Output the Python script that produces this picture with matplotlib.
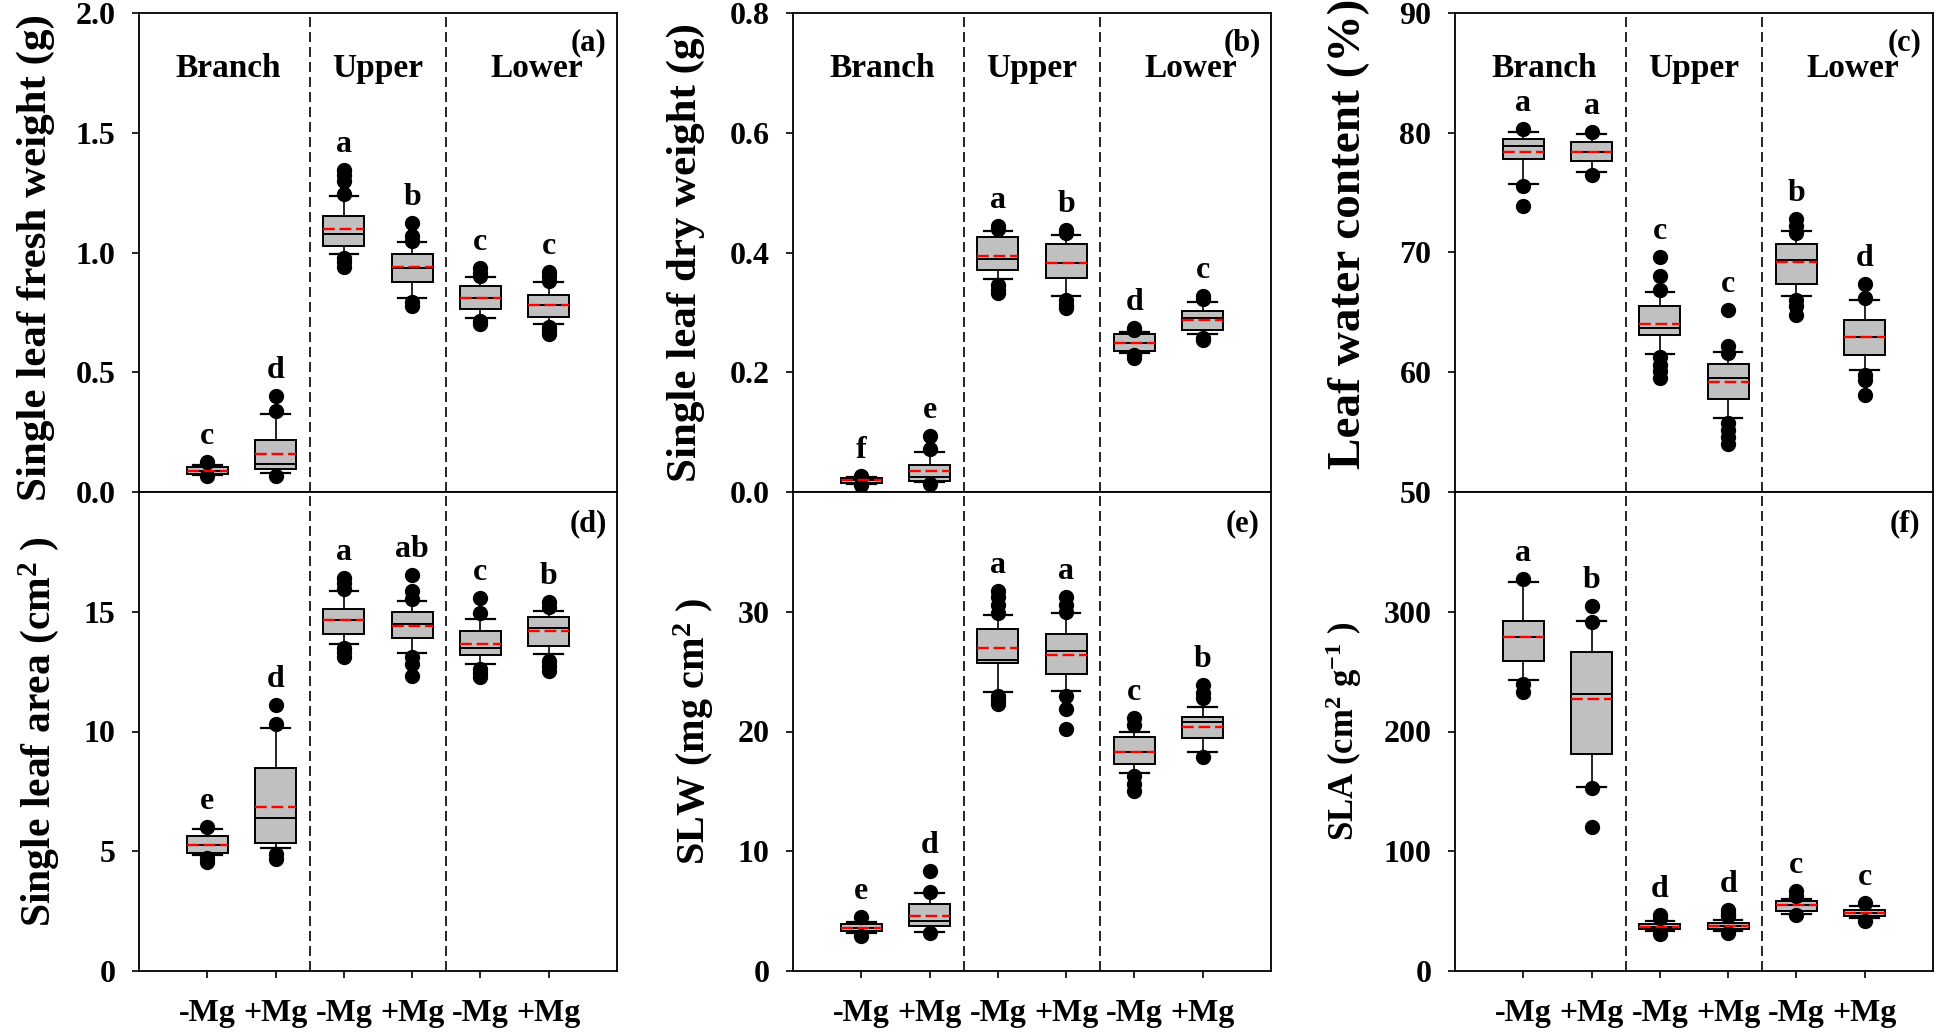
import matplotlib
matplotlib.use("Agg")
import matplotlib.pyplot as plt
import matplotlib.transforms as mtransforms

plt.rcParams.update({
    "font.family": ["Liberation Serif", "DejaVu Serif"],
    "font.weight": "bold",
    "axes.labelweight": "bold",
    "mathtext.fontset": "custom",
    "mathtext.rm": "Liberation Serif:bold",
    "mathtext.it": "Liberation Serif:italic:bold",
    "mathtext.bf": "Liberation Serif:bold",
    "axes.linewidth": 1.3,
})

# ---------------- data (order: Branch -Mg, Branch +Mg, Upper -Mg, Upper +Mg, Lower -Mg, Lower +Mg)
treatments = ["-Mg", "+Mg", "-Mg", "+Mg", "-Mg", "+Mg"]
groups = ["Branch", "Upper", "Lower"]

# (a) single leaf fresh weight (g)
a_q1 = [0.076, 0.094, 1.028, 0.875, 0.766, 0.730]
a_med = [0.088, 0.117, 1.077, 0.935, 0.809, 0.780]
a_q3 = [0.104, 0.216, 1.153, 0.993, 0.861, 0.823]
a_mean = [0.088, 0.159, 1.097, 0.938, 0.812, 0.781]
a_lo = [0.072, 0.078, 0.994, 0.809, 0.726, 0.702]
a_hi = [0.113, 0.325, 1.234, 1.043, 0.897, 0.877]
a_out = [[0.125, 0.065], [0.40, 0.337, 0.066], [1.345, 1.325, 1.30, 1.245, 0.976, 0.96, 0.94],
         [1.125, 1.067, 1.05, 0.795, 0.775], [0.935, 0.915, 0.90, 0.712, 0.70],
         [0.92, 0.90, 0.88, 0.69, 0.675, 0.66]]
a_let = ["c", "d", "a", "b", "c", "c"]

# (b) single leaf dry weight (g)
b_q1 = [0.0155, 0.018, 0.370, 0.358, 0.235, 0.270]
b_med = [0.020, 0.025, 0.389, 0.382, 0.249, 0.290]
b_q3 = [0.0226, 0.045, 0.4257, 0.415, 0.264, 0.302]
b_mean = [0.020, 0.035, 0.394, 0.382, 0.249, 0.288]
b_lo = [0.014, 0.016, 0.355, 0.3275, 0.232, 0.264]
b_hi = [0.025, 0.066, 0.436, 0.430, 0.267, 0.317]
b_out = [[0.027, 0.012], [0.094, 0.071, 0.013], [0.444, 0.440, 0.346, 0.338, 0.333],
         [0.438, 0.433, 0.320, 0.312, 0.307], [0.274, 0.270, 0.228, 0.224],
         [0.327, 0.322, 0.258, 0.254]]
b_let = ["f", "e", "a", "b", "d", "c"]

# (c) leaf water content (%)
c_q1 = [77.78, 77.64, 63.14, 57.78, 67.40, 61.41]
c_med = [78.90, 78.40, 63.70, 59.51, 69.41, 62.91]
c_q3 = [79.46, 79.23, 65.51, 60.71, 70.75, 64.40]
c_mean = [78.42, 78.40, 64.06, 59.18, 69.22, 62.91]
c_lo = [75.75, 76.72, 61.55, 56.20, 66.40, 60.15]
c_hi = [80.07, 79.90, 66.71, 61.69, 71.78, 66.07]
c_out = [[80.3, 75.55, 73.88], [80.07, 76.47], [69.64, 68.02, 66.85, 61.3, 60.63, 60.07, 59.51],
         [65.23, 62.16, 61.6, 55.8, 55.2, 54.6, 54.0], [72.76, 72.2, 71.6, 66.07, 65.5, 64.8],
         [67.4, 66.2, 59.8, 59.37, 58.1]]
c_let = ["a", "a", "c", "c", "b", "d"]

# (d) single leaf area (cm2)
d_q1 = [4.93, 5.36, 14.07, 13.90, 13.18, 13.56]
d_med = [5.26, 6.37, 14.64, 14.50, 13.50, 14.33]
d_q3 = [5.62, 8.47, 15.10, 14.98, 14.19, 14.76]
d_mean = [5.26, 6.86, 14.64, 14.42, 13.64, 14.19]
d_lo = [4.83, 5.14, 13.64, 13.28, 12.82, 13.25]
d_hi = [5.91, 10.15, 15.86, 15.45, 14.71, 15.02]
d_out = [[6.03, 4.71, 4.57], [11.1, 10.3, 4.88, 4.66], [16.4, 16.2, 15.95, 13.47, 13.3, 13.13],
         [16.53, 15.88, 15.53, 13.13, 12.8, 12.3], [15.57, 14.93, 12.61, 12.45, 12.27],
         [15.4, 15.2, 12.96, 12.75, 12.53]]
d_let = ["e", "d", "a", "ab", "c", "b"]

# (e) SLW (mg cm-2)
e_q1 = [3.30, 3.75, 25.74, 24.78, 17.25, 19.45]
e_med = [3.60, 4.19, 26.00, 26.70, 18.28, 20.82]
e_q3 = [3.92, 5.57, 28.56, 28.14, 19.55, 21.20]
e_mean = [3.60, 4.60, 26.94, 26.43, 18.30, 20.41]
e_lo = [3.16, 3.23, 23.33, 23.40, 16.56, 18.25]
e_hi = [4.09, 6.50, 29.76, 29.86, 20.00, 22.03]
e_out = [[4.5, 2.89], [8.32, 6.6, 3.16], [31.75, 31.2, 30.6, 29.9, 23.0, 22.6, 22.3],
         [31.24, 30.6, 30.0, 22.99, 21.86, 20.24], [21.1, 20.58, 16.29, 15.6, 15.02],
         [23.85, 23.2, 22.82, 17.9]]
e_let = ["e", "d", "a", "a", "c", "b"]

# (f) SLA (cm2 g-1)
f_q1 = [259.1, 181.0, 34.7, 35.0, 50.2, 46.0]
f_med = [279.0, 231.0, 36.8, 37.5, 55.3, 48.8]
f_q3 = [292.4, 266.0, 39.2, 40.2, 58.1, 51.2]
f_mean = [279.0, 227.5, 36.8, 37.5, 55.3, 48.8]
f_lo = [242.6, 153.6, 33.0, 33.0, 48.0, 44.5]
f_hi = [325.0, 292.4, 41.9, 42.6, 60.5, 54.6]
f_out = [[327, 240, 233], [304.5, 291.8, 152.6, 120.6], [46.7, 44.0, 30.6],
         [51.2, 48.0, 46.0, 31.6], [66.7, 63.0, 46.7], [56.4, 42.0]]
f_let = ["a", "b", "d", "d", "c", "c"]

panels = [
    dict(tag="(a)", ylabel="Single leaf fresh weight (g)", ylim=(0, 2.0),
         yticks=[0.0, 0.5, 1.0, 1.5, 2.0], fmt="{:.1f}",
         q1=a_q1, med=a_med, q3=a_q3, mean=a_mean, lo=a_lo, hi=a_hi, out=a_out, let=a_let),
    dict(tag="(b)", ylabel="Single leaf dry weight (g)", ylim=(0, 0.8),
         yticks=[0.0, 0.2, 0.4, 0.6, 0.8], fmt="{:.1f}",
         q1=b_q1, med=b_med, q3=b_q3, mean=b_mean, lo=b_lo, hi=b_hi, out=b_out, let=b_let),
    dict(tag="(c)", ylabel="Leaf water content (%)", ylim=(50, 90),
         yticks=[50, 60, 70, 80, 90], fmt="{:.0f}",
         q1=c_q1, med=c_med, q3=c_q3, mean=c_mean, lo=c_lo, hi=c_hi, out=c_out, let=c_let),
    dict(tag="(d)", ylabel=r"Single leaf area (cm$^{2}$ )", ylim=(0, 20),
         yticks=[0, 5, 10, 15], fmt="{:.0f}",
         q1=d_q1, med=d_med, q3=d_q3, mean=d_mean, lo=d_lo, hi=d_hi, out=d_out, let=d_let),
    dict(tag="(e)", ylabel=r"SLW (mg cm$^{2}$ )", ylim=(0, 40),
         yticks=[0, 10, 20, 30], fmt="{:.0f}",
         q1=e_q1, med=e_med, q3=e_q3, mean=e_mean, lo=e_lo, hi=e_hi, out=e_out, let=e_let),
    dict(tag="(f)", ylabel=r"SLA (cm$^{2}$ g$^{-1}$ )", ylim=(0, 400),
         yticks=[0, 100, 200, 300], fmt="{:.0f}",
         q1=f_q1, med=f_med, q3=f_q3, mean=f_mean, lo=f_lo, hi=f_hi, out=f_out, let=f_let),
]

# ---------------- layout
W, H = 1944, 1034
fig = plt.figure(figsize=(W / 100, H / 100), dpi=100)
lefts = [139, 793, 1455]
pw = 478
row_bottoms = [492, 971]   # pixel y of bottom edge (from top)
ph = 479
label_x = [-0.176, -0.184, -0.178, -0.163, -0.161, -0.19]
label_y = [0.49, 0.5, 0.54, 0.5, 0.5, 0.5]
label_fs = [31, 31, 34, 30, 29, 25]
positions = [1, 2, 3, 4, 5, 6]
group_x = [1.3, 3.5, 5.83]

FS = 23
for i, p in enumerate(panels):
    row, col = divmod(i, 3)
    ybot = row_bottoms[row]
    ax = fig.add_axes([lefts[col] / W, 1 - ybot / H, pw / W, ph / H])
    stats = []
    for k in range(6):
        stats.append(dict(med=p["med"][k], q1=p["q1"][k], q3=p["q3"][k],
                          whislo=p["lo"][k], whishi=p["hi"][k],
                          fliers=p["out"][k], mean=p["mean"][k]))
    ax.bxp(stats, positions=positions, widths=0.6, capwidths=0.42,
           showmeans=True, meanline=True, patch_artist=True,
           boxprops=dict(facecolor="#c0c0c0", edgecolor="black", linewidth=1.4),
           medianprops=dict(color="black", linewidth=1.4),
           meanprops=dict(color="red", linestyle=(0, (5, 2)), linewidth=1.7),
           whiskerprops=dict(color="black", linewidth=1.2),
           capprops=dict(color="black", linewidth=1.6),
           flierprops=dict(marker="o", markerfacecolor="black",
                           markeredgecolor="black", markersize=10))
    ax.set_xlim(0, 7)
    ax.set_ylim(*p["ylim"])
    for xv in (2.5, 4.5):
        ax.axvline(xv, color="black", linewidth=1.2, linestyle=(0, (6, 3)), zorder=1)

    ax.set_yticks(p["yticks"])
    ax.set_yticklabels([p["fmt"].format(v) for v in p["yticks"]])
    ax.tick_params(axis="y", direction="out", length=5, width=1.2, pad=12, labelsize=FS)
    if row == 0:
        ax.set_xticks([])
        trans = mtransforms.blended_transform_factory(ax.transData, ax.transAxes)
        for gx, g in zip(group_x, groups):
            ax.text(gx, 0.885, g, transform=trans, ha="center", va="center", fontsize=FS + 1)
        ax.text(0.941, 0.937, p["tag"], transform=ax.transAxes, ha="center", va="center", fontsize=FS - 1)
    else:
        ax.set_xticks(positions)
        ax.set_xticklabels(treatments)
        ax.tick_params(axis="x", direction="out", length=5, width=1.2, pad=15, labelsize=FS)
        ax.text(0.941, 0.934, p["tag"], transform=ax.transAxes, ha="center", va="center", fontsize=FS - 1)

    for k in range(6):
        top = max([p["hi"][k]] + list(p["out"][k]))
        ax.annotate(p["let"][k], xy=(positions[k], top), xytext=(0, 13),
                    textcoords="offset points", ha="center", va="baseline", fontsize=FS)

    ax.set_ylabel(p["ylabel"], fontsize=label_fs[i])
    ax.yaxis.set_label_coords(label_x[i], label_y[i])

fig.savefig("out.png", dpi=100)
